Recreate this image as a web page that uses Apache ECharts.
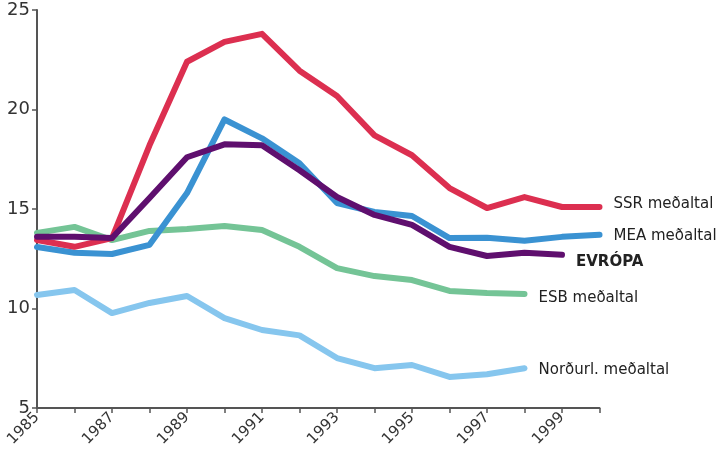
<!DOCTYPE html>
<html>
<head>
<meta charset="utf-8">
<script src="https://cdn.jsdelivr.net/npm/echarts@6/dist/echarts.min.js"></script>
<style>html,body{margin:0;padding:0;background:#fff}#c{width:721px;height:452px}</style>
</head>
<body>
<div id="c"></div>
<script>
const years = ['1985','1986','1987','1988','1989','1990','1991','1992','1993','1994','1995','1996','1997','1998','1999','2000'];
const yTicks = [5, 10, 15, 20, 25];
const nordurl = [10.68, 10.93, 9.77, 10.28, 10.63, 9.52, 8.92, 8.65, 7.51, 7.0, 7.16, 6.56, 6.7, 7.0];
const esb = [13.8, 14.1, 13.44, 13.9, 14.0, 14.15, 13.94, 13.1, 12.03, 11.63, 11.43, 10.88, 10.78, 10.73];
const mea = [13.09, 12.8, 12.74, 13.2, 15.8, 19.5, 18.55, 17.3, 15.3, 14.85, 14.65, 13.54, 13.55, 13.4, 13.6, 13.7];
const ssr = [13.44, 13.1, 13.54, 18.2, 22.4, 23.4, 23.8, 21.95, 20.68, 18.7, 17.7, 16.05, 15.05, 15.6, 15.1, 15.1];
const evropa = [13.6, 13.6, 13.54, 15.55, 17.6, 18.25, 18.2, 16.95, 15.6, 14.7, 14.2, 13.1, 12.64, 12.8, 12.7];

const names = {nordurl:'Norðurl. meðaltal', esb:'ESB meðaltal', mea:'MEA meðaltal', ssr:'SSR meðaltal', evropa:'EVRÓPA'};
const FONT = 'DejaVu Sans, sans-serif';

function mk(name, data, color, bold, dy) {
  return {
    name: name, type: 'line', data: data, symbol: 'none', smooth: false,
    lineStyle: {color: color, width: 6, cap: 'round', join: 'round'},
    itemStyle: {color: color},
    endLabel: {show: true, formatter: name, distance: 14, offset: [0, dy], color: '#222',
      fontFamily: FONT, fontSize: 15, fontWeight: bold ? 'bold' : 'normal'},
    emphasis: {disabled: true}, animation: false
  };
}

const chart = echarts.init(document.getElementById('c'));
chart.setOption({
  animation: false,
  grid: {left: 37, right: 121.5, top: 10, bottom: 44, containLabel: false},
  xAxis: {
    type: 'category', data: years, boundaryGap: false,
    axisLine: {lineStyle: {color: '#555', width: 2}},
    axisTick: {show: true, interval: 0, length: 5, lineStyle: {color: '#555', width: 1.5}},
    axisLabel: {interval: 1, rotate: 45, color: '#333', fontSize: 15, margin: 7, fontFamily: FONT},
    splitLine: {show: false}
  },
  yAxis: {
    type: 'value', min: yTicks[0], max: yTicks[yTicks.length - 1], interval: 5,
    axisLine: {show: true, lineStyle: {color: '#555', width: 2}},
    axisTick: {show: true, length: 5, lineStyle: {color: '#555', width: 1.5}},
    axisLabel: {color: '#333', fontSize: 18, margin: 7, fontFamily: FONT},
    splitLine: {show: false}
  },
  series: [
    mk(names.nordurl, nordurl, '#86c6ee', false, 2),
    mk(names.esb, esb, '#74c496', false, 4),
    mk(names.mea, mea, '#3a92d2', false, 1),
    mk(names.ssr, ssr, '#dc2f50', false, -3),
    mk(names.evropa, evropa, '#5f0f6e', true, 7)
  ]
});
</script>
</body>
</html>
